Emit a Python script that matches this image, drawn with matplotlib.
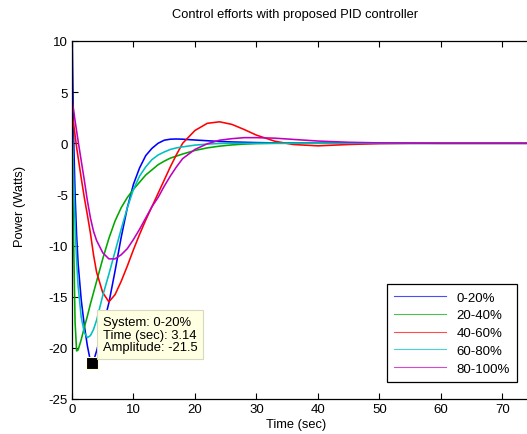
import matplotlib
matplotlib.use("Agg")
import matplotlib.pyplot as plt

plt.rcParams['font.family'] = ['Liberation Sans', 'DejaVu Sans']
plt.rcParams['font.size'] = 9.5
plt.rcParams['axes.unicode_minus'] = False

# time samples (sec)
t = [0, 0.25, 0.5, 0.75, 1, 1.5, 2, 2.5, 3, 3.5, 4, 5, 6, 7, 8, 9, 10,
     11, 12, 13, 14, 15, 16, 17, 18, 20, 22, 24, 26, 28, 30, 33, 36, 40,
     45, 50, 55, 60, 70, 80]

# power (Watts) for each load band
p_0_20 = [12, 1, -5, -9, -11.8, -15.3, -17.8, -19.8, -21.3, -21.3, -20.3,
          -18.0, -15.6, -12.5, -9.2, -6.3, -4.0, -2.4, -1.2, -0.5, 0.0, 0.3,
          0.4, 0.42, 0.4, 0.32, 0.25, 0.18, 0.13, 0.1, 0.07, 0.04, 0.02,
          0.01, 0, 0, 0, 0, 0, 0]
p_20_40 = [2, -9, -17.5, -20.3, -20.2, -19.2, -18.0, -16.9, -15.7, -14.6,
           -13.5, -11.3, -9.3, -7.6, -6.3, -5.3, -4.5, -3.8, -3.1, -2.6,
           -2.1, -1.75, -1.45, -1.25, -1.05, -0.7, -0.45, -0.28, -0.16,
           -0.08, -0.03, 0, 0, 0, 0, 0, 0, 0, 0, 0]
p_40_60 = [3, 1.9, 0.8, -0.4, -1.4, -3.4, -5.3, -7.0, -8.8, -10.9, -12.6,
           -14.6, -15.5, -14.8, -13.5, -12.0, -10.4, -8.9, -7.5, -6.2, -4.9,
           -3.6, -2.3, -1.1, 0.0, 1.25, 1.95, 2.1, 1.85, 1.35, 0.8, 0.2,
           -0.12, -0.25, -0.12, -0.03, 0, 0, 0, 0]
p_60_80 = [2.5, -3, -8, -11.5, -14, -17, -18.5, -19, -18.8, -18.2, -17.3,
           -14.9, -12.8, -10.6, -8.4, -6.3, -4.5, -3.2, -2.3, -1.6, -1.15,
           -0.85, -0.6, -0.45, -0.35, -0.18, -0.08, -0.02, 0, 0, 0, 0, 0, 0,
           0, 0, 0, 0, 0, 0]
p_80_100 = [4.3, 3.3, 2.2, 1.2, 0.2, -1.7, -3.6, -5.6, -7.3, -8.6, -9.5,
            -10.7, -11.3, -11.3, -10.9, -10.3, -9.4, -8.4, -7.3, -6.2, -5.3,
            -4.2, -3.2, -2.3, -1.5, -0.6, -0.05, 0.3, 0.45, 0.55, 0.55, 0.5,
            0.38, 0.22, 0.1, 0.04, 0.02, 0, 0, 0]

labels = ['0-20%', '20-40%', '40-60%', '60-80%', '80-100%']
series = [p_0_20, p_20_40, p_40_60, p_60_80, p_80_100]
colors = ['#0000FF', '#00A800', '#FF0000', '#00BFBF', '#BF00BF']

# data tip
tip_t = 3.2
tip_p = -21.5

fig = plt.figure(figsize=(5.27, 4.35), dpi=100)
ax = fig.add_axes([72 / 527, 35 / 435, 461 / 527, 358 / 435])

handles = []
for vals, lab, col in zip(series, labels, colors):
    ax.plot(t, vals, color=col, lw=1.15)
    h, = ax.plot([], [], color=col, lw=0.8, alpha=0.7, label=lab)
    handles.append(h)

ax.set_xlim(0, 75)
ax.set_ylim(-25, 10)
ax.set_xticks(range(0, 71, 10))
ax.set_yticks(range(-25, 11, 5))
ax.tick_params(direction='in', top=True, right=True, length=4, width=0.8,
               labelsize=9.5, pad=3)
for s in ax.spines.values():
    s.set_linewidth(0.9)

# title and labels sit a little off the axes centre in the reference
fig.text(295 / 527, 1 - 15 / 435, 'Control efforts with proposed PID controller',
         ha='center', va='center', fontsize=9.3)
fig.text(296 / 527, 1 - 425 / 435, 'Time (sec)', ha='center', va='center',
         fontsize=9.3)
fig.text(20 / 527, 1 - 206 / 435, 'Power (Watts)', ha='center', va='center',
         rotation=90, fontsize=9.3)

leg = fig.legend(handles=handles, loc='lower left',
                 bbox_to_anchor=(387 / 527, 52 / 435), borderaxespad=0,
                 fancybox=False, edgecolor='black', framealpha=1, fontsize=9.5,
                 handlelength=3.9, labelspacing=0.42, borderpad=0.55,
                 handletextpad=0.8)
leg.get_frame().set_linewidth(0.9)

ax.plot([tip_t], [tip_p], marker='s', color='black', markersize=8,
        markeredgecolor='#FFFFE0', markeredgewidth=0.8, zorder=5)
ax.annotate('System: 0-20%\nTime (sec): 3.14\nAmplitude: -21.5',
            xy=(tip_t, tip_p), xytext=(8, 7), textcoords='offset points',
            fontsize=9.4, va='bottom', ha='left', linespacing=1.1,
            bbox=dict(boxstyle='square,pad=0.45', fc='#FFFFE1', ec='#D8D8C0',
                      lw=0.8), zorder=6)

fig.savefig('out.png', dpi=100)
